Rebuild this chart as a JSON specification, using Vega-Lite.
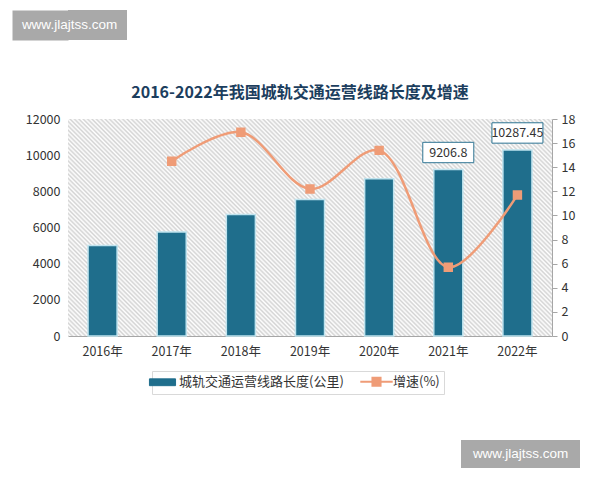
{
  "$schema": "https://vega.github.io/schema/vega-lite/v6.json",
  "background": "white",
  "padding": {"left": 12, "top": 10, "right": 5, "bottom": 5},
  "spacing": 45,
  "resolve": {"scale": {"stroke": "independent"}},
  "config": {
    "view": {"stroke": null},
    "font": "Noto Sans CJK SC",
    "axis": {"labelFont": "Noto Sans CJK SC", "labelColor": "#333333", "labelFontSize": 12.5, "grid": false},
    "legend": {"labelFont": "Noto Sans CJK SC"}
  },
  "datasets": {
    "main": [
      {"year": "2016年", "length": 5000, "growth": null},
      {"year": "2017年", "length": 5750, "growth": 14.5},
      {"year": "2018年", "length": 6720, "growth": 16.9},
      {"year": "2019年", "length": 7550, "growth": 12.2},
      {"year": "2020年", "length": 8700, "growth": 15.4},
      {"year": "2021年", "length": 9206.8, "growth": 5.7},
      {"year": "2022年", "length": 10287.45, "growth": 11.7}
    ]
  },
  "vconcat": [
    {
      "width": 59,
      "height": 30,
      "view": {"fill": "#a9a9a9", "stroke": null},
      "data": {"values": [{"site": "www.jlajtss.com"}]},
      "mark": {"type": "text", "color": "white", "fontSize": 13.5, "font": "Liberation Sans", "dx": -28},
      "encoding": {
        "text": {"field": "site", "type": "nominal"},
        "y": {
          "field": "site",
          "type": "nominal",
          "axis": {"title": null, "labels": false, "ticks": false, "domain": true, "domainColor": "#a9a9a9", "domainWidth": 56, "domainCap": "butt", "offset": 28}
        }
      }
    },
    {
      "resolve": {"scale": {"stroke": "independent"}},
      "hconcat": [
        {
          "width": 484,
          "height": 217,
          "view": {
            "stroke": null,
            "fill": {
              "gradient": "linear", "x1": 0, "y1": 1, "x2": 1.2059, "y2": 0.4593,
              "stops": [
{"offset":0,"color":"#d3d3d3"},{"offset":0.003125,"color":"#fff"},{"offset":0.00625,"color":"#d3d3d3"},{"offset":0.009375,"color":"#fff"},{"offset":0.0125,"color":"#d3d3d3"},{"offset":0.015625,"color":"#fff"},{"offset":0.01875,"color":"#d3d3d3"},{"offset":0.021875,"color":"#fff"},
{"offset":0.025,"color":"#d3d3d3"},{"offset":0.028125,"color":"#fff"},{"offset":0.03125,"color":"#d3d3d3"},{"offset":0.034375,"color":"#fff"},{"offset":0.0375,"color":"#d3d3d3"},{"offset":0.040625,"color":"#fff"},{"offset":0.04375,"color":"#d3d3d3"},{"offset":0.046875,"color":"#fff"},
{"offset":0.05,"color":"#d3d3d3"},{"offset":0.053125,"color":"#fff"},{"offset":0.05625,"color":"#d3d3d3"},{"offset":0.059375,"color":"#fff"},{"offset":0.0625,"color":"#d3d3d3"},{"offset":0.065625,"color":"#fff"},{"offset":0.06875,"color":"#d3d3d3"},{"offset":0.071875,"color":"#fff"},
{"offset":0.075,"color":"#d3d3d3"},{"offset":0.078125,"color":"#fff"},{"offset":0.08125,"color":"#d3d3d3"},{"offset":0.084375,"color":"#fff"},{"offset":0.0875,"color":"#d3d3d3"},{"offset":0.090625,"color":"#fff"},{"offset":0.09375,"color":"#d3d3d3"},{"offset":0.096875,"color":"#fff"},
{"offset":0.1,"color":"#d3d3d3"},{"offset":0.103125,"color":"#fff"},{"offset":0.10625,"color":"#d3d3d3"},{"offset":0.109375,"color":"#fff"},{"offset":0.1125,"color":"#d3d3d3"},{"offset":0.115625,"color":"#fff"},{"offset":0.11875,"color":"#d3d3d3"},{"offset":0.121875,"color":"#fff"},
{"offset":0.125,"color":"#d3d3d3"},{"offset":0.128125,"color":"#fff"},{"offset":0.13125,"color":"#d3d3d3"},{"offset":0.134375,"color":"#fff"},{"offset":0.1375,"color":"#d3d3d3"},{"offset":0.140625,"color":"#fff"},{"offset":0.14375,"color":"#d3d3d3"},{"offset":0.146875,"color":"#fff"},
{"offset":0.15,"color":"#d3d3d3"},{"offset":0.153125,"color":"#fff"},{"offset":0.15625,"color":"#d3d3d3"},{"offset":0.159375,"color":"#fff"},{"offset":0.1625,"color":"#d3d3d3"},{"offset":0.165625,"color":"#fff"},{"offset":0.16875,"color":"#d3d3d3"},{"offset":0.171875,"color":"#fff"},
{"offset":0.175,"color":"#d3d3d3"},{"offset":0.178125,"color":"#fff"},{"offset":0.18125,"color":"#d3d3d3"},{"offset":0.184375,"color":"#fff"},{"offset":0.1875,"color":"#d3d3d3"},{"offset":0.190625,"color":"#fff"},{"offset":0.19375,"color":"#d3d3d3"},{"offset":0.196875,"color":"#fff"},
{"offset":0.2,"color":"#d3d3d3"},{"offset":0.203125,"color":"#fff"},{"offset":0.20625,"color":"#d3d3d3"},{"offset":0.209375,"color":"#fff"},{"offset":0.2125,"color":"#d3d3d3"},{"offset":0.215625,"color":"#fff"},{"offset":0.21875,"color":"#d3d3d3"},{"offset":0.221875,"color":"#fff"},
{"offset":0.225,"color":"#d3d3d3"},{"offset":0.228125,"color":"#fff"},{"offset":0.23125,"color":"#d3d3d3"},{"offset":0.234375,"color":"#fff"},{"offset":0.2375,"color":"#d3d3d3"},{"offset":0.240625,"color":"#fff"},{"offset":0.24375,"color":"#d3d3d3"},{"offset":0.246875,"color":"#fff"},
{"offset":0.25,"color":"#d3d3d3"},{"offset":0.253125,"color":"#fff"},{"offset":0.25625,"color":"#d3d3d3"},{"offset":0.259375,"color":"#fff"},{"offset":0.2625,"color":"#d3d3d3"},{"offset":0.265625,"color":"#fff"},{"offset":0.26875,"color":"#d3d3d3"},{"offset":0.271875,"color":"#fff"},
{"offset":0.275,"color":"#d3d3d3"},{"offset":0.278125,"color":"#fff"},{"offset":0.28125,"color":"#d3d3d3"},{"offset":0.284375,"color":"#fff"},{"offset":0.2875,"color":"#d3d3d3"},{"offset":0.290625,"color":"#fff"},{"offset":0.29375,"color":"#d3d3d3"},{"offset":0.296875,"color":"#fff"},
{"offset":0.3,"color":"#d3d3d3"},{"offset":0.303125,"color":"#fff"},{"offset":0.30625,"color":"#d3d3d3"},{"offset":0.309375,"color":"#fff"},{"offset":0.3125,"color":"#d3d3d3"},{"offset":0.315625,"color":"#fff"},{"offset":0.31875,"color":"#d3d3d3"},{"offset":0.321875,"color":"#fff"},
{"offset":0.325,"color":"#d3d3d3"},{"offset":0.328125,"color":"#fff"},{"offset":0.33125,"color":"#d3d3d3"},{"offset":0.334375,"color":"#fff"},{"offset":0.3375,"color":"#d3d3d3"},{"offset":0.340625,"color":"#fff"},{"offset":0.34375,"color":"#d3d3d3"},{"offset":0.346875,"color":"#fff"},
{"offset":0.35,"color":"#d3d3d3"},{"offset":0.353125,"color":"#fff"},{"offset":0.35625,"color":"#d3d3d3"},{"offset":0.359375,"color":"#fff"},{"offset":0.3625,"color":"#d3d3d3"},{"offset":0.365625,"color":"#fff"},{"offset":0.36875,"color":"#d3d3d3"},{"offset":0.371875,"color":"#fff"},
{"offset":0.375,"color":"#d3d3d3"},{"offset":0.378125,"color":"#fff"},{"offset":0.38125,"color":"#d3d3d3"},{"offset":0.384375,"color":"#fff"},{"offset":0.3875,"color":"#d3d3d3"},{"offset":0.390625,"color":"#fff"},{"offset":0.39375,"color":"#d3d3d3"},{"offset":0.396875,"color":"#fff"},
{"offset":0.4,"color":"#d3d3d3"},{"offset":0.403125,"color":"#fff"},{"offset":0.40625,"color":"#d3d3d3"},{"offset":0.409375,"color":"#fff"},{"offset":0.4125,"color":"#d3d3d3"},{"offset":0.415625,"color":"#fff"},{"offset":0.41875,"color":"#d3d3d3"},{"offset":0.421875,"color":"#fff"},
{"offset":0.425,"color":"#d3d3d3"},{"offset":0.428125,"color":"#fff"},{"offset":0.43125,"color":"#d3d3d3"},{"offset":0.434375,"color":"#fff"},{"offset":0.4375,"color":"#d3d3d3"},{"offset":0.440625,"color":"#fff"},{"offset":0.44375,"color":"#d3d3d3"},{"offset":0.446875,"color":"#fff"},
{"offset":0.45,"color":"#d3d3d3"},{"offset":0.453125,"color":"#fff"},{"offset":0.45625,"color":"#d3d3d3"},{"offset":0.459375,"color":"#fff"},{"offset":0.4625,"color":"#d3d3d3"},{"offset":0.465625,"color":"#fff"},{"offset":0.46875,"color":"#d3d3d3"},{"offset":0.471875,"color":"#fff"},
{"offset":0.475,"color":"#d3d3d3"},{"offset":0.478125,"color":"#fff"},{"offset":0.48125,"color":"#d3d3d3"},{"offset":0.484375,"color":"#fff"},{"offset":0.4875,"color":"#d3d3d3"},{"offset":0.490625,"color":"#fff"},{"offset":0.49375,"color":"#d3d3d3"},{"offset":0.496875,"color":"#fff"},
{"offset":0.5,"color":"#d3d3d3"},{"offset":0.503125,"color":"#fff"},{"offset":0.50625,"color":"#d3d3d3"},{"offset":0.509375,"color":"#fff"},{"offset":0.5125,"color":"#d3d3d3"},{"offset":0.515625,"color":"#fff"},{"offset":0.51875,"color":"#d3d3d3"},{"offset":0.521875,"color":"#fff"},
{"offset":0.525,"color":"#d3d3d3"},{"offset":0.528125,"color":"#fff"},{"offset":0.53125,"color":"#d3d3d3"},{"offset":0.534375,"color":"#fff"},{"offset":0.5375,"color":"#d3d3d3"},{"offset":0.540625,"color":"#fff"},{"offset":0.54375,"color":"#d3d3d3"},{"offset":0.546875,"color":"#fff"},
{"offset":0.55,"color":"#d3d3d3"},{"offset":0.553125,"color":"#fff"},{"offset":0.55625,"color":"#d3d3d3"},{"offset":0.559375,"color":"#fff"},{"offset":0.5625,"color":"#d3d3d3"},{"offset":0.565625,"color":"#fff"},{"offset":0.56875,"color":"#d3d3d3"},{"offset":0.571875,"color":"#fff"},
{"offset":0.575,"color":"#d3d3d3"},{"offset":0.578125,"color":"#fff"},{"offset":0.58125,"color":"#d3d3d3"},{"offset":0.584375,"color":"#fff"},{"offset":0.5875,"color":"#d3d3d3"},{"offset":0.590625,"color":"#fff"},{"offset":0.59375,"color":"#d3d3d3"},{"offset":0.596875,"color":"#fff"},
{"offset":0.6,"color":"#d3d3d3"},{"offset":0.603125,"color":"#fff"},{"offset":0.60625,"color":"#d3d3d3"},{"offset":0.609375,"color":"#fff"},{"offset":0.6125,"color":"#d3d3d3"},{"offset":0.615625,"color":"#fff"},{"offset":0.61875,"color":"#d3d3d3"},{"offset":0.621875,"color":"#fff"},
{"offset":0.625,"color":"#d3d3d3"},{"offset":0.628125,"color":"#fff"},{"offset":0.63125,"color":"#d3d3d3"},{"offset":0.634375,"color":"#fff"},{"offset":0.6375,"color":"#d3d3d3"},{"offset":0.640625,"color":"#fff"},{"offset":0.64375,"color":"#d3d3d3"},{"offset":0.646875,"color":"#fff"},
{"offset":0.65,"color":"#d3d3d3"},{"offset":0.653125,"color":"#fff"},{"offset":0.65625,"color":"#d3d3d3"},{"offset":0.659375,"color":"#fff"},{"offset":0.6625,"color":"#d3d3d3"},{"offset":0.665625,"color":"#fff"},{"offset":0.66875,"color":"#d3d3d3"},{"offset":0.671875,"color":"#fff"},
{"offset":0.675,"color":"#d3d3d3"},{"offset":0.678125,"color":"#fff"},{"offset":0.68125,"color":"#d3d3d3"},{"offset":0.684375,"color":"#fff"},{"offset":0.6875,"color":"#d3d3d3"},{"offset":0.690625,"color":"#fff"},{"offset":0.69375,"color":"#d3d3d3"},{"offset":0.696875,"color":"#fff"},
{"offset":0.7,"color":"#d3d3d3"},{"offset":0.703125,"color":"#fff"},{"offset":0.70625,"color":"#d3d3d3"},{"offset":0.709375,"color":"#fff"},{"offset":0.7125,"color":"#d3d3d3"},{"offset":0.715625,"color":"#fff"},{"offset":0.71875,"color":"#d3d3d3"},{"offset":0.721875,"color":"#fff"},
{"offset":0.725,"color":"#d3d3d3"},{"offset":0.728125,"color":"#fff"},{"offset":0.73125,"color":"#d3d3d3"},{"offset":0.734375,"color":"#fff"},{"offset":0.7375,"color":"#d3d3d3"},{"offset":0.740625,"color":"#fff"},{"offset":0.74375,"color":"#d3d3d3"},{"offset":0.746875,"color":"#fff"},
{"offset":0.75,"color":"#d3d3d3"},{"offset":0.753125,"color":"#fff"},{"offset":0.75625,"color":"#d3d3d3"},{"offset":0.759375,"color":"#fff"},{"offset":0.7625,"color":"#d3d3d3"},{"offset":0.765625,"color":"#fff"},{"offset":0.76875,"color":"#d3d3d3"},{"offset":0.771875,"color":"#fff"},
{"offset":0.775,"color":"#d3d3d3"},{"offset":0.778125,"color":"#fff"},{"offset":0.78125,"color":"#d3d3d3"},{"offset":0.784375,"color":"#fff"},{"offset":0.7875,"color":"#d3d3d3"},{"offset":0.790625,"color":"#fff"},{"offset":0.79375,"color":"#d3d3d3"},{"offset":0.796875,"color":"#fff"},
{"offset":0.8,"color":"#d3d3d3"},{"offset":0.803125,"color":"#fff"},{"offset":0.80625,"color":"#d3d3d3"},{"offset":0.809375,"color":"#fff"},{"offset":0.8125,"color":"#d3d3d3"},{"offset":0.815625,"color":"#fff"},{"offset":0.81875,"color":"#d3d3d3"},{"offset":0.821875,"color":"#fff"},
{"offset":0.825,"color":"#d3d3d3"},{"offset":0.828125,"color":"#fff"},{"offset":0.83125,"color":"#d3d3d3"},{"offset":0.834375,"color":"#fff"},{"offset":0.8375,"color":"#d3d3d3"},{"offset":0.840625,"color":"#fff"},{"offset":0.84375,"color":"#d3d3d3"},{"offset":0.846875,"color":"#fff"},
{"offset":0.85,"color":"#d3d3d3"},{"offset":0.853125,"color":"#fff"},{"offset":0.85625,"color":"#d3d3d3"},{"offset":0.859375,"color":"#fff"},{"offset":0.8625,"color":"#d3d3d3"},{"offset":0.865625,"color":"#fff"},{"offset":0.86875,"color":"#d3d3d3"},{"offset":0.871875,"color":"#fff"},
{"offset":0.875,"color":"#d3d3d3"},{"offset":0.878125,"color":"#fff"},{"offset":0.88125,"color":"#d3d3d3"},{"offset":0.884375,"color":"#fff"},{"offset":0.8875,"color":"#d3d3d3"},{"offset":0.890625,"color":"#fff"},{"offset":0.89375,"color":"#d3d3d3"},{"offset":0.896875,"color":"#fff"},
{"offset":0.9,"color":"#d3d3d3"},{"offset":0.903125,"color":"#fff"},{"offset":0.90625,"color":"#d3d3d3"},{"offset":0.909375,"color":"#fff"},{"offset":0.9125,"color":"#d3d3d3"},{"offset":0.915625,"color":"#fff"},{"offset":0.91875,"color":"#d3d3d3"},{"offset":0.921875,"color":"#fff"},
{"offset":0.925,"color":"#d3d3d3"},{"offset":0.928125,"color":"#fff"},{"offset":0.93125,"color":"#d3d3d3"},{"offset":0.934375,"color":"#fff"},{"offset":0.9375,"color":"#d3d3d3"},{"offset":0.940625,"color":"#fff"},{"offset":0.94375,"color":"#d3d3d3"},{"offset":0.946875,"color":"#fff"},
{"offset":0.95,"color":"#d3d3d3"},{"offset":0.953125,"color":"#fff"},{"offset":0.95625,"color":"#d3d3d3"},{"offset":0.959375,"color":"#fff"},{"offset":0.9625,"color":"#d3d3d3"},{"offset":0.965625,"color":"#fff"},{"offset":0.96875,"color":"#d3d3d3"},{"offset":0.971875,"color":"#fff"},
{"offset":0.975,"color":"#d3d3d3"},{"offset":0.978125,"color":"#fff"},{"offset":0.98125,"color":"#d3d3d3"},{"offset":0.984375,"color":"#fff"},{"offset":0.9875,"color":"#d3d3d3"},{"offset":0.990625,"color":"#fff"},{"offset":0.99375,"color":"#d3d3d3"},{"offset":0.996875,"color":"#fff"},
{"offset":1,"color":"#d3d3d3"}
              ]
            }
          },
          "title": {
            "text": "2016-2022年我国城轨交通运营线路长度及增速",
            "fontSize": 16,
            "fontWeight": "bold",
            "font": "Noto Sans CJK SC",
            "color": "#1c3e5e",
            "offset": 12,
            "dx": -10
          },
          "data": {"name": "main"},
          "encoding": {
            "x": {
              "field": "year",
              "type": "nominal",
              "sort": null,
              "scale": {"paddingInner": 0, "paddingOuter": 0},
              "axis": {
                "title": null,
                "labelAngle": 0,
                "ticks": false,
                "domain": true,
                "domainColor": "#a6a6a6",
                "domainWidth": 1,
                "labelPadding": 9
              }
            }
          },
          "resolve": {"scale": {"y": "independent"}},
          "layer": [
            {
              "layer": [
                {
                  "mark": {"type": "bar", "fill": "#1f6e8c", "stroke": "#bfe3ee", "strokeWidth": 1.5, "width": {"band": 0.42}},
                  "encoding": {
                    "y": {
                      "field": "length",
                      "type": "quantitative",
                      "scale": {"domain": [0, 12000], "nice": false},
                      "axis": {
                        "values": [0, 2000, 4000, 6000, 8000, 10000, 12000],
                        "domain": false,
                        "ticks": false,
                        "labelPadding": 8,
                        "labelOverlap": false,
                        "format": "d",
                        "title": "x",
                        "titleOpacity": 0,
                        "titleFontSize": 12,
                        "titlePadding": 0
                      }
                    }
                  }
                },
                {
                  "transform": [{"filter": "datum.year === '2021年' || datum.year === '2022年'"}],
                  "mark": {
                    "type": "point",
                    "shape": "M-1,-0.4H1V0.4H-1Z",
                    "size": 2601,
                    "filled": true,
                    "fill": "white",
                    "stroke": "#2e7493",
                    "strokeWidth": 1,
                    "opacity": 1,
                    "yOffset": -17
                  },
                  "encoding": {
                    "y": {
                      "field": "length",
                      "type": "quantitative",
                      "scale": {"domain": [0, 12000], "nice": false},
                      "axis": {
                        "values": [0, 2000, 4000, 6000, 8000, 10000, 12000],
                        "domain": false,
                        "ticks": false,
                        "labelPadding": 8,
                        "labelOverlap": false,
                        "format": "d",
                        "title": "x",
                        "titleOpacity": 0,
                        "titleFontSize": 12,
                        "titlePadding": 0
                      }
                    }
                  }
                },
                {
                  "transform": [{"filter": "datum.year === '2021年' || datum.year === '2022年'"}],
                  "mark": {"type": "text", "fontSize": 12.5, "color": "#333333", "yOffset": -17, "baseline": "middle"},
                  "encoding": {
                    "y": {
                      "field": "length",
                      "type": "quantitative",
                      "scale": {"domain": [0, 12000], "nice": false},
                      "axis": {
                        "values": [0, 2000, 4000, 6000, 8000, 10000, 12000],
                        "domain": false,
                        "ticks": false,
                        "labelPadding": 8,
                        "labelOverlap": false,
                        "format": "d",
                        "title": "x",
                        "titleOpacity": 0,
                        "titleFontSize": 12,
                        "titlePadding": 0
                      }
                    },
                    "text": {"field": "length", "type": "nominal"}
                  }
                }
              ]
            },
            {
              "mark": {
                "type": "line",
                "interpolate": "catmull-rom",
                "strokeWidth": 2.5,
                "point": {"shape": "square", "size": 55, "filled": true, "fill": "#ef9c77", "opacity": 1}
              },
              "encoding": {
                "y": {
                  "field": "growth",
                  "type": "quantitative",
                  "scale": {"domain": [0, 18], "nice": false},
                  "axis": {
                    "orient": "right",
                    "values": [0, 2, 4, 6, 8, 10, 12, 14, 16, 18],
                    "title": null,
                    "domain": true,
                    "domainColor": "#a6a6a6",
                    "ticks": true,
                    "tickColor": "#a6a6a6",
                    "tickSize": 5,
                    "labelPadding": 4
                  }
                },
                "stroke": {
                  "datum": "增速(%)",
                  "type": "nominal",
                  "scale": {"domain": ["城轨交通运营线路长度(公里)", "增速(%)"], "range": ["#1f6e8c", "#ef9c77"]},
                  "legend": {
                    "title": null,
                    "orient": "none",
                    "legendX": 84,
                    "legendY": 252,
                    "direction": "horizontal",
                    "symbolType": "square",
                    "symbolSize": 324,
                    "labelFontSize": 13,
                    "labelColor": "#333333",
                    "labelOffset": 10,
                    "labelLimit": 300,
                    "columnPadding": 12,
                    "padding": 4,
                    "strokeColor": "#d9d9d9",
                    "fillColor": "white",
                    "encode": {
                      "symbols": {
                        "update": {
                          "shape": {"signal": "datum.value === '增速(%)' ? 'M-1.8,0H1.8M-0.45,-0.45H0.45V0.45H-0.45Z' : 'M-1.45,-0.38H1.45V0.38H-1.45Z'"},
                          "fill": {"signal": "datum.value === '增速(%)' ? '#ef9c77' : '#1f6e8c'"},
                          "strokeWidth": {"signal": "datum.value === '增速(%)' ? 2 : 1"},
                          "opacity": {"value": 1}
                        }
                      }
                    }
                  }
                }
              }
            }
          ]
        }
      ]
    },
    {
      "spacing": 20,
      "hconcat": [
        {
          "width": 373,
          "height": 28,
          "view": {"stroke": null},
          "data": {"values": []},
          "mark": "point"
        },
        {
          "width": 119,
          "height": 28,
          "view": {"fill": "#a9a9a9", "stroke": null},
          "data": {"values": [{"site": "www.jlajtss.com"}]},
          "mark": {"type": "text", "color": "white", "fontSize": 13.5, "font": "Liberation Sans"},
          "encoding": {"text": {"field": "site", "type": "nominal"}}
        }
      ]
    }
  ]
}
